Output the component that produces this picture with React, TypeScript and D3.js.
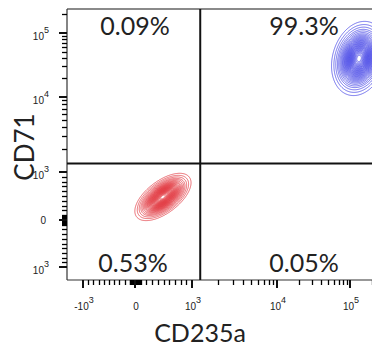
import React, { useMemo } from "react";
import * as d3 from "d3";

const W = 372;
const H = 349;
const plot = { left: 67, top: 9, right: 381, bottom: 280 };

// display transform: linear inside +-1000, log decades beyond (logicle-like)
const LIN = 1000;
const tf = (v: number) =>
  Math.abs(v) <= LIN ? v / LIN : Math.sign(v) * (1 + Math.log10(Math.abs(v) / LIN));

// axis knots: -10^3, 0, 10^3, 10^4, 10^5 (in transformed units)
const knots = [-1, 0, 1, 2, 3];
const xKnotPx = [83, 135, 192, 277, 350];
const yKnotPx = [267, 220, 172, 97, 33];

// ---- data ----
const cd235aTicks = [-1000, 0, 1000, 10000, 100000];
const cd235aTickLabels = [["-10", "3"], ["0", ""], ["10", "3"], ["10", "4"], ["10", "5"]];
const cd71Ticks = [-1000, 0, 1000, 10000, 100000];
const cd71TickLabels = [["10", "3"], ["0", ""], ["10", "3"], ["10", "4"], ["10", "5"]];
const minorMult = [1, 2, 3, 4, 5, 6, 7, 8, 9];
const minorDecadesNeg = [10, 100];
const minorDecadesPos = [10, 100, 1000, 10000, 100000];

const gateCD235a = 1250;
const gateCD71 = 1300;

const quadrantPct = ["0.09%", "99.3%", "0.53%", "0.05%"]; // UL, UR, LL, LR

const popNames = ["CD235a- CD71lo", "CD235a+ CD71+"];
const popCD235a = [490, 133000];
const popCD71 = [480, 40000];
const popSdX = [0.17, 0.13]; // transformed units
const popSdY = [0.17, 0.2];
const popRho = [0.6, 0.2];
const popColors = ["#e0323a", "#3c3ce4"];
const contourLevels = [0.015, 0.03, 0.05, 0.075, 0.1, 0.13, 0.16, 0.19, 0.22, 0.25,
  0.28, 0.31, 0.34, 0.37, 0.4, 0.43, 0.46, 0.49, 0.52, 0.55, 0.58, 0.61, 0.64,
  0.67, 0.7, 0.73, 0.76, 0.79, 0.82, 0.85, 0.88, 0.91, 0.94, 0.97];

const App = () => {
  const xf = d3.scaleLinear().domain(knots).range(xKnotPx);
  const yf = d3.scaleLinear().domain(knots).range(yKnotPx);
  const x = (v: number) => xf(tf(v));
  const y = (v: number) => yf(tf(v));
  const snap = (p: number) => Math.round(p) + 0.5;

  const minorTicks: number[] = [];
  minorDecadesNeg.forEach((d) => minorMult.forEach((m) => minorTicks.push(-d * m)));
  minorDecadesPos.forEach((d) => minorMult.forEach((m) => minorTicks.push(d * m)));
  const minorX = minorTicks.filter((v) => !cd235aTicks.includes(v) && x(v) > plot.left + 1 && x(v) < W);
  const minorY = minorTicks.filter((v) => !cd71Ticks.includes(v) && y(v) > plot.top + 1 && y(v) < plot.bottom - 1);

  const gw = plot.right - plot.left;
  const gh = plot.bottom - plot.top;

  const contourSets = useMemo(() => {
    return popNames.map((_, p) => {
      const values = new Float64Array(gw * gh);
      const mx = tf(popCD235a[p]);
      const my = tf(popCD71[p]);
      const rho = popRho[p];
      for (let j = 0; j < gh; j++) {
        const dy = (yf.invert(plot.top + j + 0.5) - my) / popSdY[p];
        for (let i = 0; i < gw; i++) {
          const dx = (xf.invert(plot.left + i + 0.5) - mx) / popSdX[p];
          const q = (dx * dx - 2 * rho * dx * dy + dy * dy) / (1 - rho * rho);
          values[j * gw + i] = Math.exp(-0.5 * q);
        }
      }
      return d3.contours().size([gw, gh]).thresholds(contourLevels)(values as any);
    });
  }, []);

  const path = d3.geoPath(d3.geoIdentity().translate([plot.left, plot.top]) as any);

  const gx = x(gateCD235a);
  const gy = y(gateCD71);
  const pctPos = [
    [135, 35],
    [304, 35],
    [133, 272],
    [304, 272],
  ];

  const tickFont = "'Liberation Sans', Arial, sans-serif";
  const bigFont = "Lato, 'Open Sans', sans-serif";

  return (
    <svg width={W} height={H} style={{ position: "absolute", left: 0, top: 0, background: "#fff" }}>
      <defs>
        <clipPath id="plotClip">
          <rect x={plot.left} y={plot.top} width={gw} height={gh} />
        </clipPath>
      </defs>
      <rect x={0} y={0} width={W} height={H} fill="#fff" />

      {/* contours */}
      <g clipPath="url(#plotClip)">
        {contourSets.map((set, p) =>
          set.map((c, k) => (
            <path key={`${p}-${k}`} d={path(c as any) || ""} fill="none"
              stroke={popColors[p]} strokeWidth={0.9} strokeOpacity={0.8} />
          ))
        )}
      </g>

      {/* frame */}
      <line x1={plot.left} x2={W} y1={plot.top} y2={plot.top} stroke="#8a8a8a" strokeWidth={2} />
      <line x1={plot.left} x2={plot.left} y1={plot.top} y2={plot.bottom} stroke="#333" strokeWidth={1.2} />
      <line x1={plot.left} x2={W} y1={plot.bottom} y2={plot.bottom} stroke="#333" strokeWidth={1.2} />

      {/* quadrant gate */}
      <line x1={gx} x2={gx} y1={plot.top} y2={plot.bottom} stroke="#111" strokeWidth={2} />
      <line x1={plot.left} x2={W} y1={gy} y2={gy} stroke="#111" strokeWidth={2} />

      {/* minor ticks */}
      {minorX.map((v) => (
        <line key={`mx${v}`} x1={snap(x(v))} x2={snap(x(v))} y1={plot.bottom} y2={plot.bottom + 5}
          stroke="#000" strokeWidth={1.3} />
      ))}
      {minorY.map((v) => (
        <line key={`my${v}`} x1={plot.left - 5} x2={plot.left} y1={snap(y(v))} y2={snap(y(v))}
          stroke="#000" strokeWidth={1.3} />
      ))}

      {cd235aTicks.map((v, i) => (
        <g key={`Mx${v}`}>
          <line x1={x(v)} x2={x(v)} y1={plot.bottom} y2={plot.bottom + 8} stroke="#111" strokeWidth={2} />
          <text x={x(v) + 1} y={310} textAnchor="middle" fontFamily={tickFont} fontSize={10} fill="#222">
            {cd235aTickLabels[i][0]}
            {cd235aTickLabels[i][1] && <tspan dy={-7} fontSize={9}>{cd235aTickLabels[i][1]}</tspan>}
          </text>
        </g>
      ))}

      {/* y axis ticks */}
      {cd71Ticks.map((v, i) => (
        <g key={`My${v}`}>
          <line x1={plot.left - 8} x2={plot.left} y1={y(v)} y2={y(v)} stroke="#111" strokeWidth={2} />
          {cd71TickLabels[i][1] ? (
            <text x={49} y={y(v) + 6.5} textAnchor="end" fontFamily={tickFont} fontSize={10} fill="#222">
              {cd71TickLabels[i][0]}
              <tspan dy={-7} fontSize={9}>{cd71TickLabels[i][1]}</tspan>
            </text>
          ) : (
            <text x={46} y={y(v) + 3.5} textAnchor="end" fontFamily={tickFont} fontSize={10} fill="#222">
              {cd71TickLabels[i][0]}
            </text>
          )}
        </g>
      ))}

      {/* quadrant percentages */}
      {quadrantPct.map((t, i) => (
        <text key={t + i} x={pctPos[i][0]} y={pctPos[i][1]} textAnchor="middle"
          fontFamily={bigFont} fontSize={25} fill="#222">{t}</text>
      ))}

      {/* axis titles */}
      <text x={200} y={342} textAnchor="middle" fontFamily={bigFont} fontSize={25} fill="#222">CD235a</text>
      <text transform="translate(34,147) rotate(-90)" textAnchor="middle" fontFamily={bigFont}
        fontSize={26} fill="#222">CD71</text>
    </svg>
  );
};

export default App;
